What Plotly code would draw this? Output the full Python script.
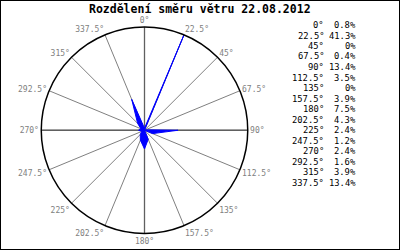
import plotly.graph_objects as go

# ---- data ----
directions = [0, 22.5, 45, 67.5, 90, 112.5, 135, 157.5,
              180, 202.5, 225, 247.5, 270, 292.5, 315, 337.5]
dir_labels = ["0°", "22.5°", "45°", "67.5°", "90°", "112.5°", "135°", "157.5°",
              "180°", "202.5°", "225°", "247.5°", "270°", "292.5°", "315°", "337.5°"]
share_pct = [0.8, 41.3, 0, 0.4, 13.4, 3.5, 0, 3.9,
             7.5, 4.3, 2.4, 1.2, 2.4, 1.6, 3.9, 13.4]
title_text = "Rozdělení směru větru 22.08.2012"

W, H = 400, 250
rmax = max(share_pct)

fig = go.Figure()

# main axes (darker spokes)
fig.add_trace(go.Scatterpolar(
    r=[rmax, 0, rmax], theta=[0, 0, 180], mode="lines",
    line=dict(color="#606060", width=1.3), hoverinfo="skip", showlegend=False))
fig.add_trace(go.Scatterpolar(
    r=[rmax, 0, rmax], theta=[90, 90, 270], mode="lines",
    line=dict(color="#606060", width=1.3), hoverinfo="skip", showlegend=False))

# wind distribution polygon
fig.add_trace(go.Scatterpolar(
    r=share_pct + [share_pct[0]],
    theta=directions + [directions[0]],
    mode="lines", fill="toself", fillcolor="#0000ff",
    line=dict(color="#0000ff", width=1), showlegend=False))

mono = "DejaVu Sans Mono"

fig.update_layout(
    width=W, height=H,
    margin=dict(l=0, r=0, t=0, b=0),
    paper_bgcolor="white", plot_bgcolor="white",
    showlegend=False,
    polar=dict(
        domain=dict(x=[0.103, 0.6195], y=[0.066, 0.892]),
        bgcolor="white",
        angularaxis=dict(
            rotation=90, direction="clockwise",
            tickmode="array", tickvals=directions, ticktext=dir_labels,
            tickfont=dict(family=mono, size=8, color="#808080"),
            ticks="",
            showgrid=True, gridcolor="#808080", gridwidth=1,
            showline=True, linecolor="black", linewidth=1.5),
        radialaxis=dict(range=[0, rmax], showgrid=False, showticklabels=False,
                        ticks="", showline=False),
    ),
)

# title
fig.add_annotation(text="<b>" + title_text + "</b>", x=200 / W, y=1 - 8.5 / H,
                   xref="paper", yref="paper", xanchor="center", yanchor="middle",
                   showarrow=False, font=dict(family=mono, size=11.5, color="black"))

# right-hand value list
for i, (lab, v) in enumerate(zip(dir_labels, share_pct)):
    ypix = 25 + 10.5 * i
    fig.add_annotation(text=lab, x=325.5 / W, y=1 - ypix / H, xref="paper", yref="paper",
                       xanchor="right", yanchor="middle", showarrow=False,
                       font=dict(family=mono, size=8.8, color="black"))
    fig.add_annotation(text=f"{v:g}%", x=357.5 / W, y=1 - ypix / H, xref="paper", yref="paper",
                       xanchor="right", yanchor="middle", showarrow=False,
                       font=dict(family=mono, size=8.8, color="black"))

# frame
fig.add_shape(type="rect", xref="paper", yref="paper", x0=0, y0=0, x1=1, y1=1,
              line=dict(color="black", width=2))

fig.write_html("out.html")
